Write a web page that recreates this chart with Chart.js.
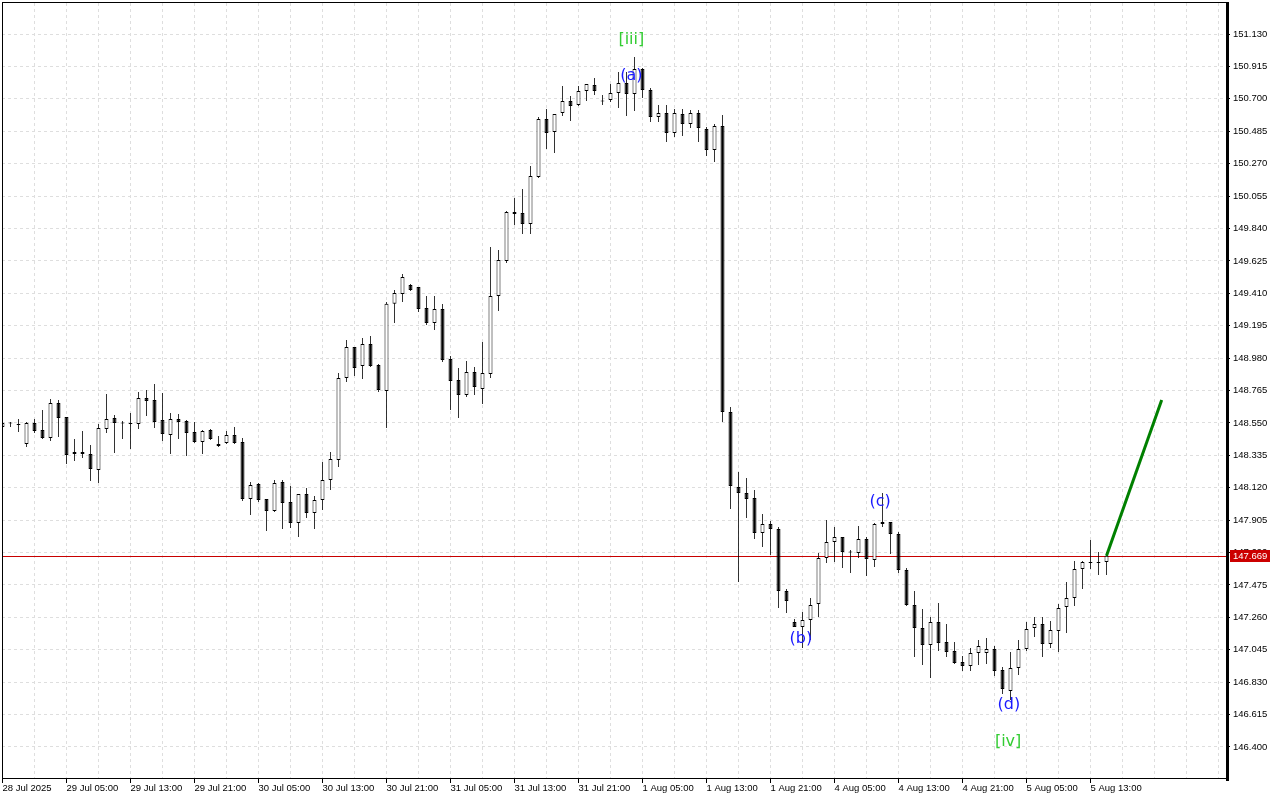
<!DOCTYPE html>
<html>
<head>
<meta charset="utf-8">
<script src="https://cdn.jsdelivr.net/npm/chart.js@4.4.1/dist/chart.umd.min.js"></script>
<style>
  html, body { margin: 0; padding: 0; background: #fff; }
  #wrap { width: 1280px; height: 800px; }
</style>
</head>
<body>
<div id="wrap"><canvas id="chart" width="1280" height="800"></canvas></div>
<script>
  // H1 candles, 28 Jul 21:00 .. 5 Aug 15:00 (weekend skipped)
  const opens = [
    148.523,148.553,148.543,148.410,148.549,148.503,148.450,148.682,148.589,148.344,
    148.357,148.344,148.237,148.509,148.583,148.549,148.549,148.543,148.715,148.702,
    148.569,148.470,148.576,148.563,148.490,148.423,148.503,148.410,148.417,148.470,
    148.423,148.045,148.144,148.045,147.966,148.158,148.025,147.886,148.078,147.952,
    148.039,148.171,148.304,148.848,149.054,148.927,149.073,148.934,148.762,149.340,
    149.405,149.465,149.452,149.312,149.213,149.306,148.974,148.835,148.735,148.888,
    148.775,148.874,149.392,149.624,149.949,149.942,149.869,150.181,150.566,150.480,
    150.606,150.686,150.659,150.752,150.792,150.686,150.692,150.739,150.805,150.732,
    150.898,150.758,150.579,150.606,150.473,150.599,150.533,150.606,150.500,150.360,
    150.520,148.622,148.125,148.085,148.052,147.820,147.879,147.846,147.435,147.229,
    147.196,147.242,147.348,147.654,147.760,147.793,147.694,147.687,147.780,147.641,
    147.879,147.893,147.813,147.574,147.342,147.189,147.077,147.229,147.096,147.037,
    146.964,146.937,147.023,147.023,147.050,146.911,146.771,146.924,147.050,147.189,
    147.216,147.083,147.169,147.328,147.388,147.581,147.627,147.627,147.627
  ];
  const highs = [
    148.556,148.556,148.576,148.556,148.576,148.636,148.709,148.702,148.589,148.443,
    148.496,148.403,148.543,148.742,148.603,148.563,148.616,148.755,148.768,148.808,
    148.748,148.616,148.609,148.569,148.556,148.503,148.509,148.463,148.496,148.523,
    148.450,148.158,148.151,148.045,148.171,148.171,148.131,148.078,148.118,148.065,
    148.291,148.357,148.881,149.100,149.054,149.113,149.127,148.941,149.352,149.432,
    149.538,149.472,149.452,149.392,149.392,149.339,148.994,148.914,148.961,148.921,
    149.087,149.717,149.697,149.956,150.042,150.102,150.254,150.579,150.632,150.599,
    150.785,150.719,150.785,150.798,150.838,150.725,150.798,150.878,150.878,150.977,
    150.904,150.772,150.659,150.659,150.632,150.632,150.626,150.626,150.513,150.533,
    150.593,148.655,148.224,148.184,148.105,147.946,147.899,147.860,147.448,147.249,
    147.295,147.388,147.687,147.906,147.860,147.793,147.707,147.866,147.793,147.886,
    148.085,147.893,147.826,147.588,147.435,147.315,147.262,147.355,147.216,147.096,
    147.004,147.057,147.110,147.123,147.070,146.931,147.030,147.110,147.229,147.262,
    147.262,147.236,147.348,147.495,147.634,147.634,147.773,147.694,147.694
  ];
  const lows = [
    148.516,148.523,148.490,148.390,148.483,148.443,148.430,148.457,148.277,148.297,
    148.317,148.164,148.151,148.483,148.350,148.443,148.377,148.509,148.596,148.516,
    148.430,148.344,148.443,148.330,148.417,148.344,148.436,148.390,148.410,148.410,
    148.032,147.939,148.025,147.833,147.959,147.846,147.853,147.793,147.919,147.846,
    147.972,148.105,148.257,148.821,148.861,148.841,148.921,148.755,148.516,149.213,
    149.352,149.425,149.286,149.200,149.166,148.954,148.636,148.583,148.722,148.735,
    148.675,148.848,149.293,149.611,149.863,149.803,149.803,150.175,150.367,150.341,
    150.586,150.553,150.652,150.686,150.725,150.659,150.679,150.639,150.586,150.619,
    150.705,150.546,150.546,150.414,150.447,150.453,150.506,150.414,150.321,150.281,
    148.556,147.979,147.495,147.919,147.780,147.727,147.674,147.322,147.289,147.196,
    147.057,147.110,147.262,147.621,147.627,147.587,147.554,147.654,147.534,147.594,
    147.860,147.680,147.554,147.335,146.997,146.944,146.858,147.037,146.997,146.951,
    146.904,146.904,146.944,146.951,146.871,146.752,146.712,146.878,147.037,147.130,
    146.997,147.057,147.030,147.156,147.335,147.448,147.581,147.541,147.541
  ];
  const closes = [
    148.549,148.546,148.536,148.549,148.496,148.450,148.682,148.583,148.337,148.357,
    148.344,148.244,148.516,148.576,148.549,148.546,148.543,148.715,148.695,148.556,
    148.476,148.576,148.556,148.483,148.423,148.496,148.443,148.397,148.470,148.417,
    148.045,148.138,148.039,147.966,148.151,148.019,147.886,148.078,147.952,148.039,
    148.171,148.310,148.848,149.054,148.914,149.073,148.927,148.768,149.340,149.412,
    149.518,149.432,149.306,149.213,149.306,148.967,148.828,148.735,148.888,148.788,
    148.881,149.392,149.631,149.949,149.936,149.869,150.188,150.566,150.473,150.599,
    150.686,150.652,150.752,150.798,150.752,150.682,150.739,150.805,150.732,150.898,
    150.758,150.579,150.606,150.473,150.606,150.533,150.606,150.506,150.360,150.520,
    148.622,148.131,148.085,148.045,147.820,147.879,147.846,147.435,147.368,147.196,
    147.242,147.342,147.654,147.760,147.793,147.694,147.690,147.780,147.647,147.879,
    147.893,147.813,147.574,147.342,147.189,147.077,147.229,147.090,147.030,146.957,
    146.937,147.023,147.070,147.050,146.904,146.785,146.924,147.050,147.183,147.216,
    147.083,147.176,147.322,147.388,147.581,147.627,147.621,147.621,147.669
  ];

  // one label every 8 bars, starting at bar 0
  const xTickLabels = [
    '28 Jul 2025','29 Jul 05:00','29 Jul 13:00','29 Jul 21:00','30 Jul 05:00','30 Jul 13:00',
    '30 Jul 21:00','31 Jul 05:00','31 Jul 13:00','31 Jul 21:00','1 Aug 05:00','1 Aug 13:00',
    '1 Aug 21:00','4 Aug 05:00','4 Aug 13:00','4 Aug 21:00','5 Aug 05:00','5 Aug 13:00'
  ];
  const yTicks = [
    151.130,150.915,150.700,150.485,150.270,150.055,149.840,149.625,149.410,149.195,148.980,148.765,
    148.550,148.335,148.120,147.905,147.690,147.475,147.260,147.045,146.830,146.615,146.400
  ];
  const yMin = 146.194, yMax = 151.336;

  // wave marks (bar index, price)
  const waveText  = ['[iii]', '(a)', '(b)', '(c)', '(d)', '[iv]'];
  const waveBar   = [78.6, 78.6, 99.8, 109.7, 125.8, 125.7];
  const wavePrice = [151.090, 150.851, 147.117, 148.025, 146.679, 146.433];
  const waveMajor = [true, false, false, false, false, true];

  // projected move
  const projBar   = [138, 144.9];
  const projPrice = [147.669, 148.702];

  const lastPrice = closes[closes.length - 1];
  const AXIS_FONT = { family: "'Liberation Sans', Arial, sans-serif", size: 9.5 };

  const overlay = {
    id: 'overlay',
    beforeDatasetsDraw(chart) {
      const { ctx, chartArea, scales } = chart;
      const y = Math.round(scales.y.getPixelForValue(lastPrice)) + 0.5;
      ctx.save();
      ctx.strokeStyle = '#c80000';
      ctx.lineWidth = 1;
      ctx.beginPath();
      ctx.moveTo(chartArea.left, y);
      ctx.lineTo(chartArea.right, y);
      ctx.stroke();
      ctx.restore();
    },
    afterDatasetsDraw(chart) {
      const { ctx, scales } = chart;
      ctx.save();
      ctx.font = '16px "DejaVu Sans", sans-serif';
      ctx.textAlign = 'center';
      ctx.textBaseline = 'middle';
      waveText.forEach((t, i) => {
        ctx.fillStyle = waveMajor[i] ? '#33cc33' : '#1a1aff';
        ctx.fillText(t, scales.x.getPixelForValue(waveBar[i]), scales.y.getPixelForValue(wavePrice[i]));
      });
      ctx.restore();
    },
    afterDraw(chart) {
      const { ctx, chartArea, scales } = chart;
      const L = chartArea.left, R = chartArea.right, T = chartArea.top, B = chartArea.bottom;
      ctx.save();
      ctx.strokeStyle = '#000';
      ctx.lineWidth = 1;
      ctx.beginPath();
      ctx.moveTo(L + 0.5, T - 1); ctx.lineTo(L + 0.5, B);
      ctx.moveTo(L, T - 0.5); ctx.lineTo(R, T - 0.5);
      ctx.moveTo(L, B + 0.5); ctx.lineTo(R, B + 0.5);
      ctx.stroke();
      ctx.fillStyle = '#000';
      ctx.fillRect(R, T - 1, 3, B - T + 4);

      // last price tag
      const y = Math.round(scales.y.getPixelForValue(lastPrice));
      ctx.fillStyle = '#cc0000';
      ctx.fillRect(R + 4, y - 6, 40, 12);
      ctx.fillStyle = '#fff';
      ctx.font = "9.5px 'Liberation Sans', Arial, sans-serif";
      ctx.textAlign = 'left';
      ctx.textBaseline = 'middle';
      ctx.fillText(lastPrice.toFixed(3), R + 7, y + 0.5);
      ctx.restore();
    }
  };

  new Chart(document.getElementById('chart'), {
    type: 'bar',
    data: {
      datasets: [
        {
          type: 'line',
          data: projBar.map((b, i) => ({ x: b, y: projPrice[i] })),
          borderColor: '#008000',
          borderWidth: 3,
          pointRadius: 0,
          order: 0
        },
        {
          data: opens.map((o, i) => ({ x: i, y: [o, closes[i]] })),
          backgroundColor: c => closes[c.dataIndex] > opens[c.dataIndex] ? '#ffffff' : '#000000',
          borderColor: '#000',
          borderWidth: 1,
          borderSkipped: false,
          grouped: false,
          barPercentage: 0.625,
          maxBarThickness: 5,
          minBarLength: 1,
          order: 1
        },
        {
          data: lows.map((l, i) => ({ x: i, y: [l, highs[i]] })),
          backgroundColor: '#000',
          borderWidth: 0,
          grouped: false,
          barPercentage: 0.125,
          maxBarThickness: 1,
          order: 2
        }
      ]
    },
    options: {
      responsive: false,
      animation: false,
      devicePixelRatio: 1,
      layout: { padding: { left: 2, top: 3, right: 0, bottom: 0 } },
      plugins: { legend: { display: false }, tooltip: { enabled: false } },
      scales: {
        x: {
          type: 'linear',
          min: -0.0625,
          max: 152.9375,
          offset: false,
          afterBuildTicks: s => {
            s.ticks = [];
            for (let v = 0; v <= 152; v += 4) s.ticks.push({ value: v });
          },
          afterFit: s => { s.height = 22; s.paddingLeft = 0; s.paddingRight = 0; },
          border: { display: false, dash: [3, 3] },
          grid: {
            offset: false,
            color: '#dedede',
            tickLength: 5,
            tickColor: c => (c.tick && c.tick.value % 8 === 0 && c.tick.value / 8 < xTickLabels.length) ? '#000' : 'rgba(0,0,0,0)'
          },
          ticks: {
            autoSkip: false,
            maxRotation: 0,
            minRotation: 0,
            align: 'start',
            padding: 0,
            color: '#000',
            font: AXIS_FONT,
            callback: v => (v % 8 === 0 && xTickLabels[v / 8]) ? xTickLabels[v / 8] : ''
          }
        },
        y: {
          position: 'right',
          min: yMin,
          max: yMax,
          afterBuildTicks: s => { s.ticks = yTicks.map(v => ({ value: v })); },
          afterFit: s => { s.width = 54; s.paddingTop = 0; s.paddingBottom = 0; },
          border: { display: false, dash: [3, 3] },
          grid: { color: '#dedede', tickLength: 4, tickColor: '#000' },
          ticks: {
            autoSkip: false,
            padding: 3,
            color: '#000',
            font: AXIS_FONT,
            callback: v => Number(v).toFixed(3)
          }
        }
      }
    },
    plugins: [overlay]
  });
</script>
</body>
</html>
